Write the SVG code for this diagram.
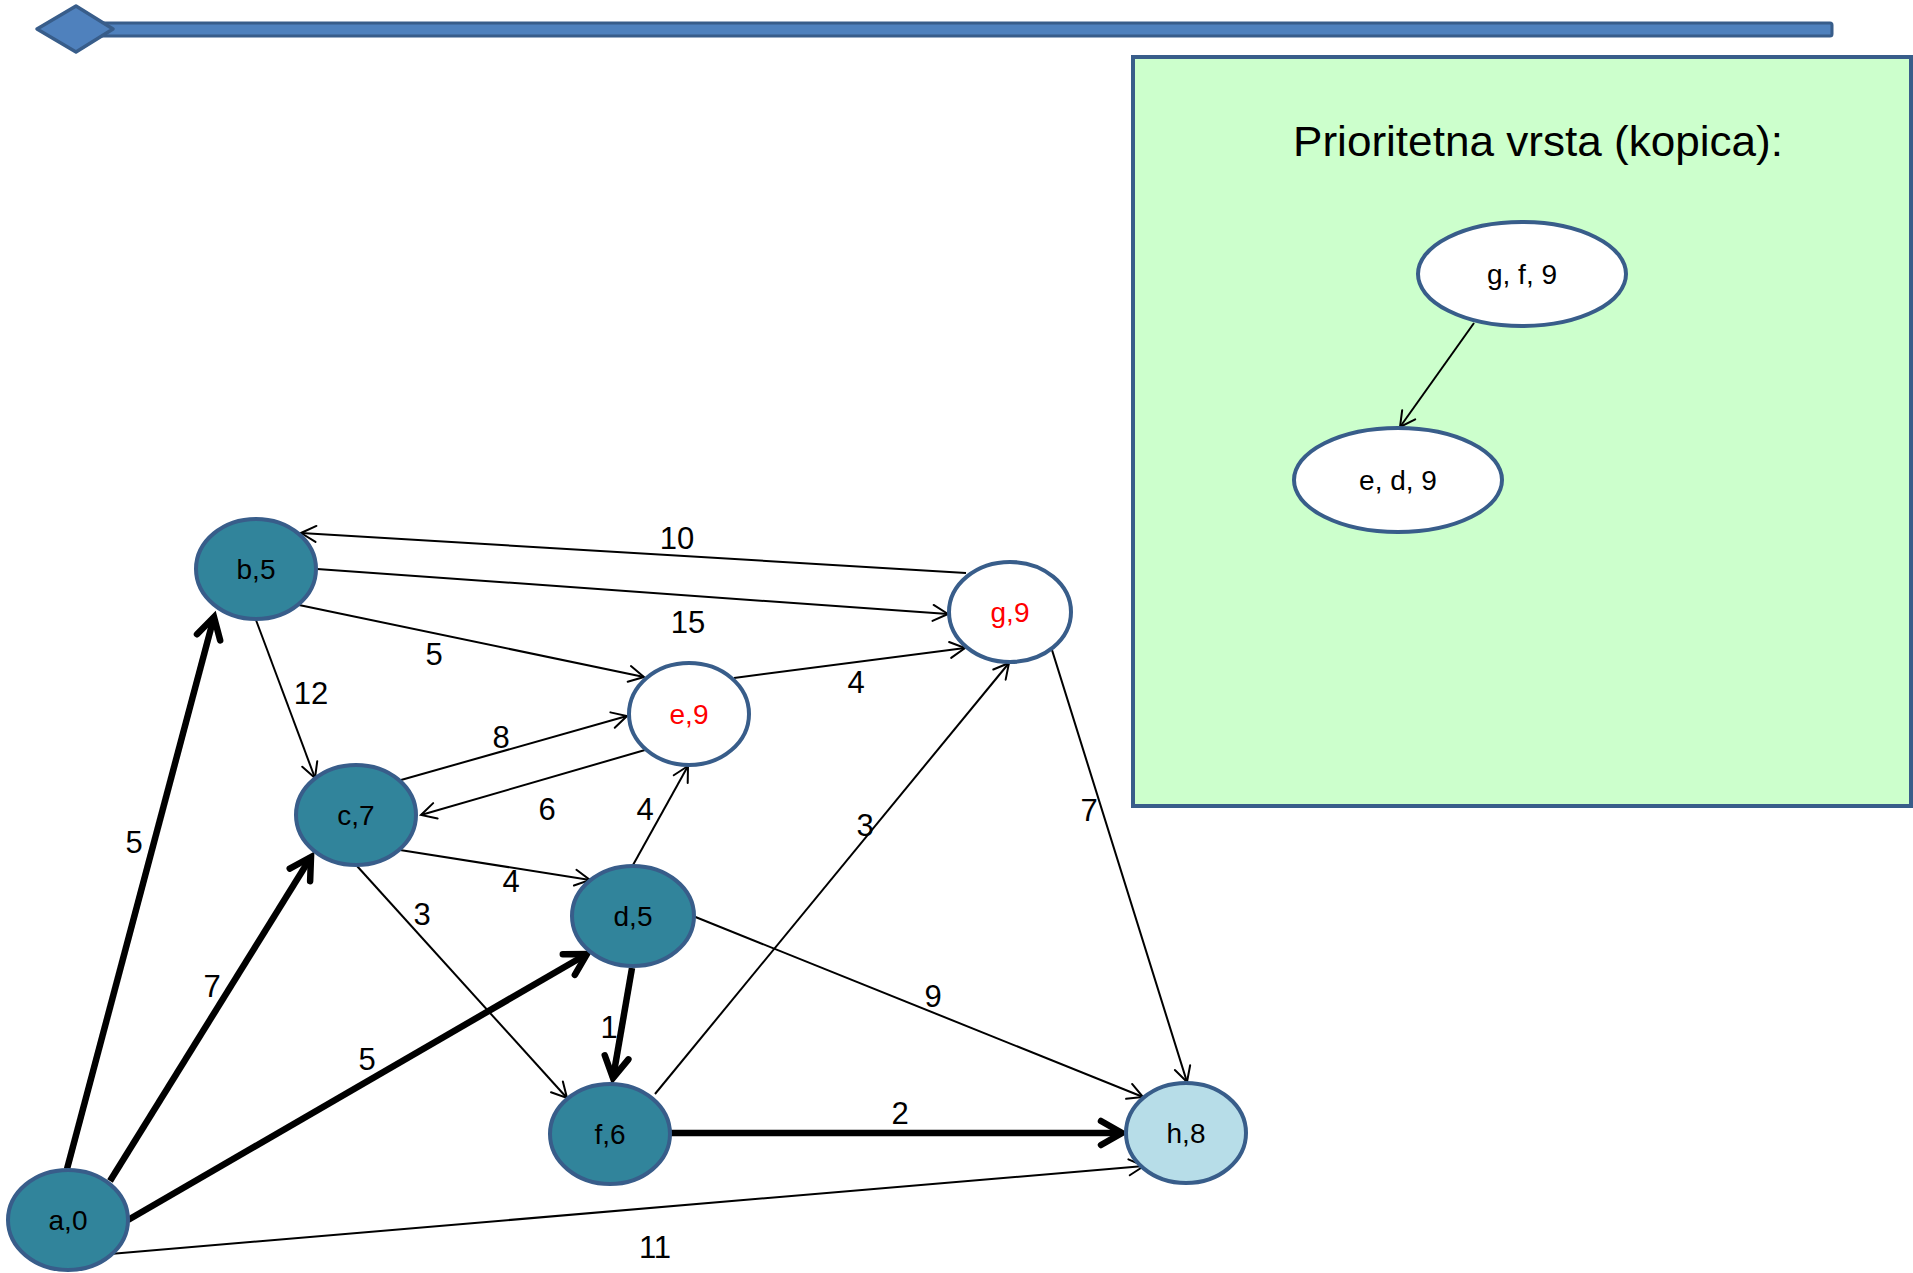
<svg xmlns="http://www.w3.org/2000/svg" width="1913" height="1273" viewBox="0 0 1913 1273">
<style>
.nd{stroke:#385D8A;stroke-width:4}
.teal{fill:#31849B}
.wh{fill:#FFFFFF}
.lb{fill:#B7DDE8}
.nt{font-family:"Liberation Sans",Arial,sans-serif;font-size:28px;text-anchor:middle;fill:#000}
.red{fill:#FF0000}
.el{font-family:"Liberation Sans",Arial,sans-serif;font-size:31px;text-anchor:middle;fill:#000}
.thin{stroke:#000;stroke-width:2;fill:none;marker-end:url(#ah)}
.thick{stroke:#000;stroke-width:6.5;fill:none;marker-end:url(#ahb)}
.hp{font-family:"Liberation Sans",Arial,sans-serif;font-size:28px;text-anchor:middle;fill:#000}
</style>
<defs>
<marker id="ah" markerUnits="userSpaceOnUse" markerWidth="30" markerHeight="30" viewBox="-20 -15 30 30" refX="0" refY="0" orient="auto" overflow="visible">
<path d="M-15,-8 L0,0 L-15,8" fill="none" stroke="#000" stroke-width="2" stroke-linecap="round" stroke-linejoin="miter"/>
</marker>
<marker id="ahb" markerUnits="userSpaceOnUse" markerWidth="40" markerHeight="40" viewBox="-30 -20 40 40" refX="0" refY="0" orient="auto" overflow="visible">
<path d="M-21,-12 L0,0 L-21,12" fill="none" stroke="#000" stroke-width="6.5" stroke-linecap="round" stroke-linejoin="miter"/>
</marker>
</defs>
<rect width="1913" height="1273" fill="#FFFFFF"/>

<g id="header">
<rect x="100" y="23" width="1732" height="13" rx="2" fill="#4F81BD" stroke="#385D8A" stroke-width="3"/>
<polygon points="37,29 76,6 113,29 76,52" fill="#4F81BD" stroke="#385D8A" stroke-width="3.5" stroke-linejoin="round"/>
</g>

<g id="heap-panel">
<rect x="1133" y="57" width="778" height="749" fill="#CCFFCC" stroke="#385D8A" stroke-width="4"/>
<text x="1538" y="156" font-family="'Liberation Sans',Arial,sans-serif" font-size="43" text-anchor="middle" textLength="490" lengthAdjust="spacingAndGlyphs" fill="#000">Prioritetna vrsta (kopica):</text>
</g>

<g id="heap-edges">
<line x1="1474" y1="323" x2="1400" y2="427" class="thin"/>
</g>
<g id="heap-gf9">
<ellipse cx="1522" cy="274" rx="104" ry="52" class="nd wh"/>
<text x="1522" y="284" class="hp">g, f, 9</text>
</g>
<g id="heap-ed9">
<ellipse cx="1398" cy="480" rx="104" ry="52" class="nd wh"/>
<text x="1398" y="490" class="hp">e, d, 9</text>
</g>

<g id="connectors">
<line x1="966" y1="573" x2="301" y2="533" class="thin"/>
<line x1="317" y1="569" x2="948" y2="614" class="thin"/>
<line x1="299" y1="605" x2="644" y2="677" class="thin"/>
<line x1="256" y1="620" x2="315" y2="778" class="thin"/>
<line x1="401" y1="780" x2="627" y2="716" class="thin"/>
<line x1="645" y1="750" x2="421" y2="815" class="thin"/>
<line x1="734" y1="678" x2="965" y2="648" class="thin"/>
<line x1="633" y1="865" x2="688" y2="766" class="thin"/>
<line x1="655" y1="1094" x2="1009" y2="663" class="thin"/>
<line x1="400" y1="850" x2="590" y2="880" class="thin"/>
<line x1="357" y1="866" x2="567" y2="1098" class="thin"/>
<line x1="693" y1="916" x2="1143" y2="1097" class="thin"/>
<line x1="1052" y1="650" x2="1187" y2="1082" class="thin"/>
<line x1="110" y1="1254" x2="1144" y2="1166" class="thin"/>
<line x1="67" y1="1169" x2="214" y2="617" class="thick"/>
<line x1="110" y1="1181" x2="311" y2="857" class="thick"/>
<line x1="128" y1="1220" x2="587" y2="954" class="thick"/>
<line x1="632" y1="968" x2="613" y2="1078" class="thick"/>
<line x1="671" y1="1133" x2="1122" y2="1133" class="thick"/>
<g id="edge-labels">
<text x="677" y="549" class="el">10</text>
<text x="688" y="633" class="el">15</text>
<text x="434" y="665" class="el">5</text>
<text x="311" y="704" class="el">12</text>
<text x="501" y="748" class="el">8</text>
<text x="547" y="820" class="el">6</text>
<text x="856" y="693" class="el">4</text>
<text x="645" y="820" class="el">4</text>
<text x="865" y="836" class="el">3</text>
<text x="511" y="892" class="el">4</text>
<text x="422" y="925" class="el">3</text>
<text x="933" y="1007" class="el">9</text>
<text x="1089" y="821" class="el">7</text>
<text x="655" y="1258" class="el">11</text>
<text x="134" y="853" class="el">5</text>
<text x="212" y="997" class="el">7</text>
<text x="367" y="1070" class="el">5</text>
<text x="609" y="1038" class="el">1</text>
<text x="900" y="1124" class="el">2</text>
</g>
</g>

<g id="node-b"><ellipse cx="256" cy="569" rx="60" ry="50" class="nd teal"/><text x="256" y="579" class="nt">b,5</text></g>
<g id="node-g"><ellipse cx="1010" cy="612" rx="61" ry="50" class="nd wh"/><text x="1010" y="622" class="nt red">g,9</text></g>
<g id="node-e"><ellipse cx="689" cy="714" rx="60" ry="51" class="nd wh"/><text x="689" y="724" class="nt red">e,9</text></g>
<g id="node-c"><ellipse cx="356" cy="815" rx="60" ry="50" class="nd teal"/><text x="356" y="825" class="nt">c,7</text></g>
<g id="node-d"><ellipse cx="633" cy="916" rx="61" ry="50" class="nd teal"/><text x="633" y="926" class="nt">d,5</text></g>
<g id="node-f"><ellipse cx="610" cy="1134" rx="60" ry="50" class="nd teal"/><text x="610" y="1144" class="nt">f,6</text></g>
<g id="node-h"><ellipse cx="1186" cy="1133" rx="60" ry="50" class="nd lb"/><text x="1186" y="1143" class="nt">h,8</text></g>
<g id="node-a"><ellipse cx="68" cy="1220" rx="60" ry="50" class="nd teal"/><text x="68" y="1230" class="nt">a,0</text></g>
</svg>
